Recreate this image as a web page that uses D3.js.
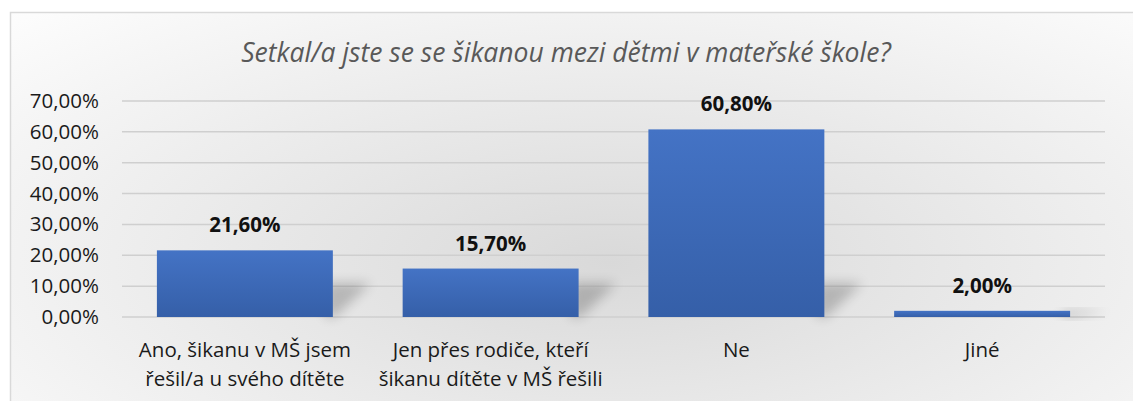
<!DOCTYPE html>
<html>
<head>
<meta charset="utf-8">
<script src="https://cdn.jsdelivr.net/npm/d3@7"></script>
<style>
  body { margin: 0; background: #fff; }
  svg { display: block; font-family: "Open Sans", sans-serif; }
</style>
</head>
<body>
<svg id="chart"></svg>
<script>
const categories = [
  ['Ano, šikanu v MŠ jsem', 'řešil/a u svého dítěte'],
  ['Jen přes rodiče, kteří', 'šikanu dítěte v MŠ řešili'],
  ['Ne'],
  ['Jiné']
]
const values = [21.6, 15.7, 60.8, 2.0]
const yTicks = [0, 10, 20, 30, 40, 50, 60, 70]
const title = 'Setkal/a jste se se šikanou mezi dětmi v mateřské škole?'

const width = 1133, height = 401
const margin = { left: 122, right: 28, top: 101, bottom: 84 }
const fmt = v => v.toFixed(2).replace('.', ',') + '%'

const svg = d3.select('#chart').attr('width', width).attr('height', height)
const defs = svg.append('defs')

const bg = defs.append('radialGradient').attr('id', 'bg')
  .attr('cx', '50%').attr('cy', '50%').attr('r', '75%')
bg.append('stop').attr('offset', '0%').attr('stop-color', '#d9d9d9')
bg.append('stop').attr('offset', '100%').attr('stop-color', '#ffffff')

const barGrad = defs.append('linearGradient').attr('id', 'barGrad')
  .attr('x1', 0).attr('y1', 0).attr('x2', 0).attr('y2', 1)
barGrad.append('stop').attr('offset', '0%').attr('stop-color', '#4473c5')
barGrad.append('stop').attr('offset', '100%').attr('stop-color', '#355fa8')

const blur = defs.append('filter').attr('id', 'blur')
  .attr('x', '-50%').attr('y', '-50%').attr('width', '200%').attr('height', '200%')
blur.append('feGaussianBlur').attr('stdDeviation', 6)

// frame
svg.append('rect')
  .attr('x', 10.5).attr('y', 12.5)
  .attr('width', 1200).attr('height', 500)
  .attr('fill', 'url(#bg)')
  .attr('stroke', '#d9d9d9').attr('stroke-width', 1.5)

svg.append('text')
  .attr('x', 566).attr('y', 62)
  .attr('text-anchor', 'middle')
  .attr('font-style', 'italic')
  .attr('font-size', 26.5)
  .attr('fill', '#595959')
  .text(title)

const x = d3.scaleBand()
  .domain(d3.range(values.length))
  .range([margin.left, width - margin.right])
  .paddingInner(0.284).paddingOuter(0.142)

const y = d3.scaleLinear()
  .domain([0, 70])
  .range([height - margin.bottom, margin.top])

// gridlines
svg.append('g')
  .selectAll('line')
  .data(yTicks)
  .join('line')
  .attr('x1', margin.left).attr('x2', width - margin.right)
  .attr('y1', d => y(d)).attr('y2', d => y(d))
  .attr('stroke', '#cfcfcf').attr('stroke-width', 1.5)

// y axis labels
const yAxis = svg.append('g')
  .attr('transform', `translate(${margin.left},0)`)
  .call(d3.axisLeft(y).tickValues(yTicks).tickFormat(fmt).tickSize(0).tickPadding(23))
yAxis.select('.domain').remove()
yAxis.selectAll('text')
  .attr('font-size', 20.5)
  .attr('font-family', '"Open Sans", sans-serif')
  .attr('fill', '#1a1a1a')

// bar shadows
svg.append('g')
  .selectAll('path')
  .data(values)
  .join('path')
  .attr('d', (d, i) => {
    const x1 = x(i) + x.bandwidth()
    const y0 = y(0)
    const h = Math.min(y0 - y(d), 34)
    return `M${x1 - 8},${y0} L${x1 + 2},${y0} L${x1 + 38},${y0 - h} L${x1 - 8},${y0 - h} Z`
  })
  .attr('fill', '#000')
  .attr('opacity', 0.2)
  .attr('filter', 'url(#blur)')

// bars
svg.append('g')
  .selectAll('rect')
  .data(values)
  .join('rect')
  .attr('x', (d, i) => x(i))
  .attr('y', d => y(d))
  .attr('width', x.bandwidth())
  .attr('height', d => y(0) - y(d))
  .attr('fill', 'url(#barGrad)')

// data labels
svg.append('g')
  .selectAll('text')
  .data(values)
  .join('text')
  .attr('x', (d, i) => x(i) + x.bandwidth() / 2)
  .attr('y', d => y(d) - 18)
  .attr('text-anchor', 'middle')
  .attr('font-size', 20.5)
  .attr('font-weight', 'bold')
  .attr('fill', '#111')
  .text(d => fmt(d))

// category labels
const xAxis = svg.append('g')
  .attr('transform', `translate(0,${y(0)})`)
  .call(d3.axisBottom(x).tickSize(0).tickFormat(''))
xAxis.select('.domain').remove()
xAxis.selectAll('.tick').append('text')
  .attr('text-anchor', 'middle')
  .attr('font-size', 20.5)
  .attr('font-family', '"Open Sans", sans-serif')
  .attr('fill', '#1a1a1a')
  .selectAll('tspan')
  .data(i => categories[i])
  .join('tspan')
  .attr('x', 0)
  .attr('y', (d, j) => 40 + j * 29)
  .text(d => d)
</script>
</body>
</html>
